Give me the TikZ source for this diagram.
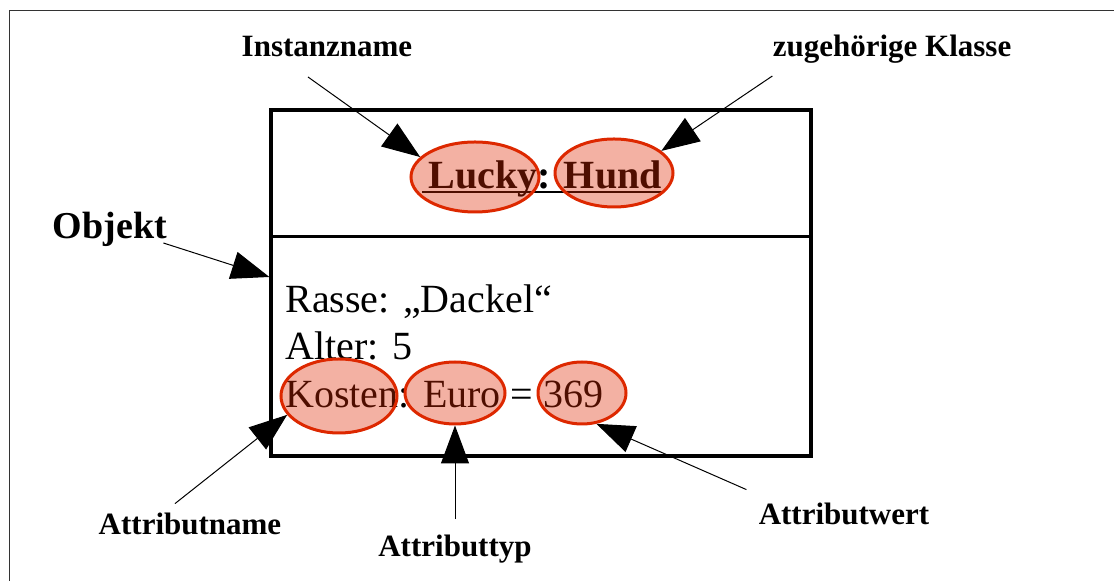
\documentclass[tikz,border=0pt]{standalone}
\usepackage{fontspec}
\setmainfont{Liberation Serif}
\usetikzlibrary{arrows.meta,shapes.geometric}
\definecolor{markred}{RGB}{221,40,0}
\begin{document}
\begin{tikzpicture}[x=0.5pt,y=-0.5pt,
  lbl/.style={font=\bfseries\fontsize{15.5}{18}\selectfont,inner sep=0pt},
  attr/.style={font=\fontsize{20}{24}\selectfont,inner sep=0pt,anchor=base west},
  ptr/.style={line width=0.5pt,-{Triangle[length=19pt,width=14pt]}},
  hilite/.style={ellipse,draw=markred,line width=1.5pt,fill=markred,fill opacity=0.36,inner sep=0pt}]
 \useasboundingbox (0,0) rectangle (1114,581);
 \draw[line width=0.7pt,black!80] (9.5,581) -- (9.5,10.5) -- (1114,10.5);
 % object box with name and attribute compartments
 \node[draw,line width=1.6pt,minimum width=270pt,minimum height=173pt] (obj) at (541,283) {};
 \draw[line width=1.6pt] ([yshift=-64pt]obj.north west) -- ([yshift=-64pt]obj.north east);
 \path 	(428,189) 	node[attr,font=\bfseries\fontsize{20}{24}\selectfont] (hdr) {Lucky: Hund}
 	(285,313) 	node[attr] (rasse) {Rasse: „Dackel“}
 	(285,360) 	node[attr] (alter) {Alter: 5}
 	(285,408) 	node[attr] (kost) {Kosten: Euro = 369};
 \draw[line width=1pt] ([xshift=-3pt,yshift=-1.5pt]hdr.base west) -- ([yshift=-1.5pt]hdr.base east);
 \path 	(475,177) 	node[hilite,minimum width=64pt,minimum height=35pt] (lucky) {}
 	(614,173) 	node[hilite,minimum width=59pt,minimum height=34pt] (hund) {}
 	(339,396) 	node[hilite,minimum width=58pt,minimum height=37pt] (kosten) {}
 	(455,393) 	node[hilite,minimum width=50pt,minimum height=31pt] (euro) {}
 	(582,393) 	node[hilite,minimum width=44pt,minimum height=31pt] (val) {};
 % labels
 \path 	(327,57) 	node[lbl,anchor=base] (inst) {Instanzname}
 	(892,57) 	node[lbl,anchor=base] (cls) {zugehörige Klasse}
 	(110,239) 	node[lbl,anchor=base,font=\bfseries\fontsize{19}{22}\selectfont] (objk) {Objekt}
 	(190,535) 	node[lbl,anchor=base] (aname) {Attributname}
 	(455,557) 	node[lbl,anchor=base] (atyp) {Attributtyp}
 	(844,525) 	node[lbl,anchor=base] (awert) {Attributwert};
 \draw[ptr] ([xshift=-9.5pt,yshift=-10pt]inst.base) -- (lucky.160);
 \draw[ptr] ([yshift=-9.5pt]cls.base west) -- (hund.25);
 \draw[ptr] ([xshift=-2pt,yshift=-2pt]objk.base east) -- ([yshift=3pt]obj.west);
 \draw[ptr] ([xshift=-7.5pt,yshift=4.75pt]aname.north) -- (kosten.200);
 \draw[ptr] ([yshift=8pt]atyp.north) -- (euro.south);
 \draw[ptr] ([xshift=-6pt,yshift=6.75pt]awert.north west) -- (val.295);
\end{tikzpicture}
\end{document}
